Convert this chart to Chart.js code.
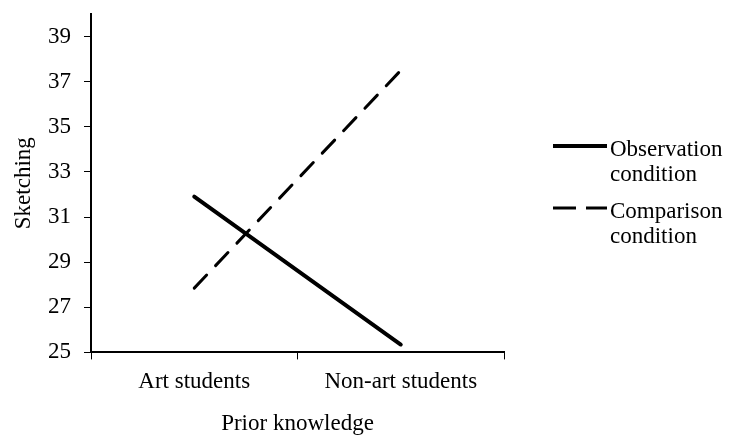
<!DOCTYPE html>
<html lang="en">
<head>
    <meta charset="UTF-8">
    <title>Sketching by prior knowledge</title>
    <style>
        body {
            margin: 0;
            padding: 0;
            background: #fff;
        }
        .chart-box {
            position: relative;
            width: 729px;
            height: 435px;
        }
    </style>
</head>
<body>
<div class="chart-box">
    <canvas id="chart1"></canvas>
</div>

<script src="https://cdn.jsdelivr.net/npm/chart.js"></script>
<script>
    var categories = ['Art students', 'Non-art students'];
    var observation = [31.9, 25.35];
    var comparison = [27.85, 37.5];
    var yTicks = [25, 27, 29, 31, 33, 35, 37, 39];
    var legendText = [['Observation', 'condition'], ['Comparison', 'condition']];

    var serif = '"Liberation Serif", "Times New Roman", serif';

    // legend drawn beside the plot, lines on the left and two-line labels
    var sideLegend = {
        id: 'sideLegend',
        afterDraw: function (chart) {
            var ctx = chart.ctx;
            var area = chart.chartArea;
            var x0 = area.right + 49;
            var y0 = area.top + 142;
            ctx.save();
            ctx.font = '23px ' + serif;
            ctx.fillStyle = '#000';
            ctx.textBaseline = 'alphabetic';
            chart.data.datasets.forEach(function (ds, i) {
                var y = y0 + i * 62;
                ctx.beginPath();
                ctx.lineWidth = ds.borderWidth;
                ctx.strokeStyle = ds.borderColor;
                ctx.lineCap = 'butt';
                ctx.setLineDash(ds.borderDash.length ? [23, 10] : []);
                ctx.moveTo(x0, y - 10);
                ctx.lineTo(x0 + 54, y - 10);
                ctx.stroke();
                ctx.setLineDash([]);
                legendText[i].forEach(function (line, j) {
                    ctx.fillText(line, x0 + 57, y + j * 25);
                });
            });
            ctx.restore();
        }
    };

    var ctx = document.getElementById('chart1').getContext('2d');
    new Chart(ctx, {
        type: 'line',
        data: {
            labels: categories,
            datasets: [{
                label: 'Observation condition',
                data: observation,
                borderColor: '#000',
                borderWidth: 4,
                borderDash: [],
                borderCapStyle: 'round',
                pointRadius: 0,
                fill: false
            }, {
                label: 'Comparison condition',
                data: comparison,
                borderColor: '#000',
                borderWidth: 3,
                borderDash: [18, 13],
                borderCapStyle: 'round',
                pointRadius: 0,
                fill: false
            }]
        },
        options: {
            responsive: true,
            maintainAspectRatio: false,
            animation: false,
            layout: {
                padding: { left: 12, right: 225, top: 14, bottom: 0 }
            },
            plugins: {
                legend: { display: false },
                tooltip: { enabled: false }
            },
            scales: {
                x: {
                    offset: true,
                    border: { color: '#000', width: 2 },
                    grid: { drawOnChartArea: false, color: '#000', tickLength: 7, offset: true },
                    ticks: {
                        color: '#000',
                        padding: 9,
                        font: { family: serif, size: 23 }
                    },
                    title: {
                        display: true,
                        text: 'Prior knowledge',
                        color: '#000',
                        padding: { top: 7, bottom: 0 },
                        font: { family: serif, size: 23, lineHeight: 1 }
                    }
                },
                y: {
                    min: 25,
                    max: 40,
                    border: { color: '#000', width: 2 },
                    grid: { drawOnChartArea: false, color: '#000', tickLength: 7 },
                    afterBuildTicks: function (scale) {
                        scale.ticks = yTicks.map(function (v) { return { value: v }; });
                    },
                    // top of the axis is 40, which has no label, so no room is kept for one
                    afterFit: function (scale) {
                        scale.paddingTop = 0;
                        scale.paddingBottom = 0;
                    },
                    ticks: {
                        color: '#000',
                        padding: 13,
                        font: { family: serif, size: 23 }
                    },
                    title: {
                        display: true,
                        text: 'Sketching',
                        color: '#000',
                        padding: { top: 0, bottom: 0 },
                        font: { family: serif, size: 23, lineHeight: 1 }
                    }
                }
            }
        },
        plugins: [sideLegend]
    });
</script>
</body>
</html>
